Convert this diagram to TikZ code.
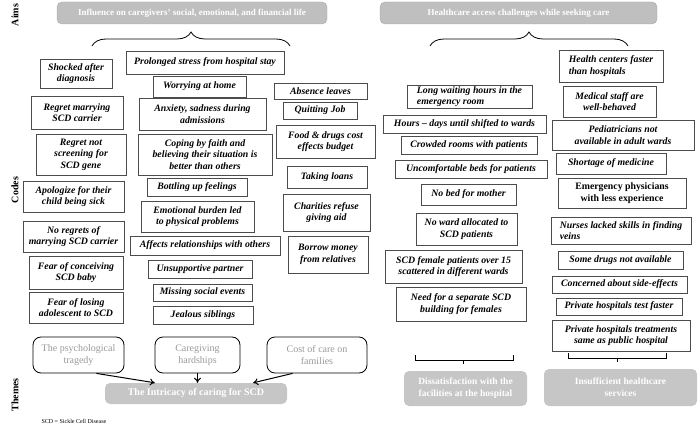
\documentclass[tikz,border=0pt]{standalone}
\usepackage{fontspec}
\setmainfont{Liberation Serif}
\usetikzlibrary{arrows.meta,decorations.pathreplacing}

\begin{document}
\begin{tikzpicture}[x=1pt,y=-1pt,
	code/.style={draw=black!70, line width=0.6pt, inner sep=1pt, align=center,
		font=\bfseries\itshape\fontsize{9.8}{11.5}\selectfont},
	aimbox/.style={fill=gray!50, draw=gray!70, rounded corners=5pt, text=white,
		font=\bfseries\fontsize{9}{11}\selectfont, minimum height=22},
	subtheme/.style={draw=black, line width=0.8pt, rounded corners=8pt, text=gray!80,
		align=center, font=\fontsize{10}{12}\selectfont, minimum height=36},
	theme/.style={fill=gray!45, rounded corners=5pt, text=white, align=center,
		font=\bfseries\fontsize{9.5}{12}\selectfont},
	sidelabel/.style={rotate=90, font=\bfseries\fontsize{10}{12}\selectfont}]

\useasboundingbox (0,0) rectangle (700,435);

% side labels
\node[sidelabel] (aims) at (15,15) {Aims};
\node[sidelabel] (codes) at (15,190) {Codes};
\node[sidelabel] (themes) at (15,395) {Themes};

% aims
\node[aimbox, minimum width=270] (aimL) at (192,13) {Influence on caregivers' social, emotional, and financial life};
\node[aimbox, minimum width=277] (aimR) at (518.5,13) {Healthcare access challenges while seeking care};

\draw[decorate, decoration={brace, amplitude=14pt}, line width=0.8pt] (92,46) -- (290,46);
\draw[decorate, decoration={brace, amplitude=14pt}, line width=0.8pt] (430,46) -- (628,46);

% codes, psychological tragedy
\node[code, minimum width=72, minimum height=29] (shock) at (76,73.5) {Shocked after\\diagnosis};
\node[code, minimum width=92, minimum height=33] (regmar) at (77,112.5) {Regret marrying\\SCD carrier};
\node[code, minimum width=90, minimum height=41] (regscr) at (81,154.5) {Regret not\\screening for\\SCD gene};
\node[code, minimum width=101, minimum height=31] (apol) at (73.5,196.5) {Apologize for their\\child being sick};
\node[code, minimum width=101, minimum height=31] (noreg) at (73.5,236.5) {No regrets of\\marrying SCD carrier};
\node[code, minimum width=94, minimum height=33] (fearcon) at (76,272.5) {Fear of conceiving\\SCD baby};
\node[code, minimum width=94, minimum height=31] (fearlos) at (76,307.5) {Fear of losing\\adolescent to SCD};

% codes, caregiving hardships
\node[code, minimum width=158, minimum height=23] (stress) at (205,62.5) {Prolonged stress from hospital stay};
\node[code, minimum width=93, minimum height=21] (worry) at (199.5,86.5) {Worrying at home};
\node[code, minimum width=127, minimum height=32] (anx) at (202.5,114) {Anxiety, sadness during\\admissions};
\node[code, minimum width=134, minimum height=41] (coping) at (205,154.5) {Coping by faith and\\believing their situation is\\better than others};
\node[code, minimum width=100, minimum height=18] (bottle) at (197,187) {Bottling up feelings};
\node[code, minimum width=113, minimum height=31] (burden) at (197.5,216.5) {Emotional burden led\\to physical problems};
\node[code, minimum width=150, minimum height=19] (affects) at (205,245.5) {Affects relationships with others};
\node[code, minimum width=104, minimum height=18] (unsup) at (200,269) {Unsupportive partner};
\node[code, minimum width=99, minimum height=17] (missing) at (202.5,292.5) {Missing social events};
\node[code, minimum width=100, minimum height=18] (jealous) at (203,315) {Jealous siblings};

% codes, cost of care
\node[code, minimum width=93, minimum height=16] (absence) at (320.5,91) {Absence leaves};
\node[code, minimum width=74, minimum height=17] (quit) at (320,110.5) {Quitting Job};
\node[code, minimum width=99, minimum height=33] (food) at (325.5,141.5) {Food \& drugs cost\\effects budget};
\node[code, minimum width=80, minimum height=22] (loans) at (327,177) {Taking loans};
\node[code, minimum width=87, minimum height=37] (charity) at (326.5,212.5) {Charities refuse\\giving aid};
\node[code, minimum width=80, minimum height=37] (borrow) at (328,254.5) {Borrow money\\from relatives};

% codes, facilities
\node[code, align=left, minimum width=125, minimum height=23] (wait) at (469.5,96.5) {Long waiting hours in the\\emergency room};
\node[code, minimum width=163, minimum height=18] (hours) at (464.5,124) {Hours -- days until shifted to wards};
\node[code, minimum width=136, minimum height=18] (crowd) at (469,145) {Crowded rooms with patients};
\node[code, minimum width=152, minimum height=18] (uncomf) at (471,169) {Uncomfortable beds for patients};
\node[code, minimum width=95, minimum height=21] (nobed) at (468.5,194.5) {No bed for mother};
\node[code, minimum width=101, minimum height=32] (noward) at (466.5,229) {No ward allocated to\\SCD patients};
\node[code, minimum width=137, minimum height=33] (female) at (453.5,266.5) {SCD female patients over 15\\scattered in different wards};
\node[code, minimum width=130, minimum height=34] (separate) at (461,304) {Need for a separate SCD\\building for females};

% codes, services
\node[code, align=left, minimum width=104, minimum height=32] (centers) at (611,66) {Health centers faster\\than hospitals};
\node[code, minimum width=93, minimum height=31] (staff) at (609.5,101.5) {Medical staff are\\well-behaved};
\node[code, minimum width=142, minimum height=30] (pedia) at (623,135) {Pediatricians not\\available in adult wards};
\node[code, minimum width=110, minimum height=21] (short) at (611,163.5) {Shortage of medicine};
\node[code, font=\bfseries\fontsize{9.8}{11.5}\selectfont, minimum width=128, minimum height=30] (emerg) at (622,193) {Emergency physicians\\with less experience};
\node[code, align=left, minimum width=140, minimum height=27] (nurses) at (621,230.5) {Nurses lacked skills in finding\\veins};
\node[code, minimum width=125, minimum height=18] (somedr) at (620.5,260) {Some drugs not available};
\node[code, minimum width=135, minimum height=17] (sidef) at (619.5,284.5) {Concerned about side-effects};
\node[code, minimum width=126, minimum height=17] (privt) at (619,306.5) {Private hospitals test faster};
\node[code, minimum width=138, minimum height=31] (privs) at (621,335.5) {Private hospitals treatments\\same as public hospital};

% themes
\node[subtheme, minimum width=91] (psy) at (78.5,355) {The psychological\\tragedy};
\node[subtheme, minimum width=85] (care) at (197.5,355) {Caregiving\\hardships};
\node[subtheme, minimum width=100] (cost) at (317,355) {Cost of care on\\families};
\node[theme, font=\bfseries\fontsize{10}{12}\selectfont, minimum width=182, minimum height=21] (intr) at (196,393.5) {The Intricacy of caring for SCD};
\node[theme, minimum width=123, minimum height=35] (dissat) at (465.5,388.5) {Dissatisfaction with the\\facilities at the hospital};
\node[theme, minimum width=153, minimum height=37] (insuf) at (620.5,387.5) {Insufficient healthcare\\services};

\draw[-{To[length=5pt,width=7pt]}, line width=1pt] ([xshift=-28pt]psy.south east) -- ([xshift=50pt]intr.north west);
\draw[-{To[length=5pt,width=7pt]}, line width=1pt] (care.south) -- (care.south |- intr.north);
\draw[-{To[length=5pt,width=7pt]}, line width=1pt] ([xshift=26pt]cost.south west) -- ([xshift=-34pt]intr.north east);

\draw[line width=0.8pt] (415,355) -- (415,360) -- (513,360) -- (513,355);
\draw[line width=0.8pt] (463,360) -- (463,364);
\draw[line width=0.8pt] (568,353) -- (568,358) -- (666,358) -- (666,353);
\draw[line width=0.8pt] (617,358) -- (617,362);

\node[anchor=west, font=\fontsize{6}{7}\selectfont] (note) at (38,421) {SCD = Sickle Cell Disease};

\end{tikzpicture}
\end{document}
